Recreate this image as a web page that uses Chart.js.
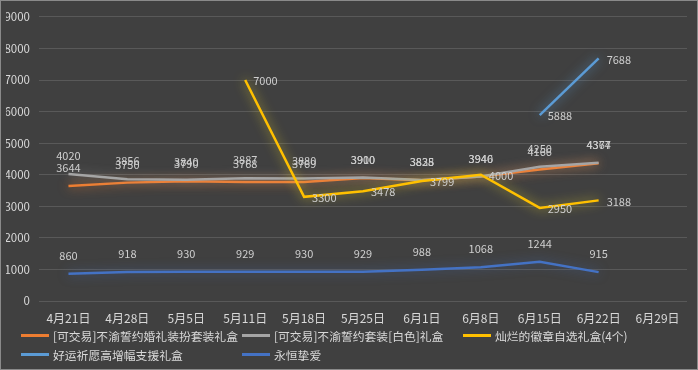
<!DOCTYPE html>
<html>
<head>
<meta charset="utf-8">
<script src="https://cdn.jsdelivr.net/npm/chart.js@4.4.1/dist/chart.umd.min.js"></script>
<style>
    body { margin: 0; background: #404040; }
    #wrap { position: relative; width: 698px; height: 370px; background: #404040; box-sizing: border-box; border: 1px solid #8a8a8a; }
    canvas { position: absolute; left: 0; top: 0; }
    #legend { position: absolute; left: 20px; top: 325px; width: 670px; display: grid; grid-template-columns: 221px 221px 221px; row-gap: 1px;
        font-family: "Noto Sans CJK SC", sans-serif; font-size: 11.8px; color: #D9D9D9; }
    .item { display: flex; align-items: center; height: 18px; white-space: nowrap; }
    .swatch { width: 28px; height: 3px; margin-right: 4px; }
</style>
</head>
<body>
<div id="wrap">
    <canvas id="chart" width="698" height="370"></canvas>
    <div id="legend"></div>
</div>
<script>
const labels = ['4月21日', '4月28日', '5月5日', '5月11日', '5月18日', '5月25日', '6月1日', '6月8日', '6月15日', '6月22日', '6月29日'];
const seriesNames = ['[可交易]不渝誓约婚礼装扮套装礼盒', '[可交易]不渝誓约套装[白色]礼盒', '灿烂的徽章自选礼盒(4个)', '好运祈愿高增幅支援礼盒', '永恒挚爱'];
const weddingBox = [3644, 3750, 3790, 3768, 3769, 3900, 3828, 3940, 4166, 4364, null];
const whiteBox = [4020, 3856, 3840, 3887, 3880, 3910, 3835, 3946, 4250, 4377, null];
const badgeBox = [null, null, null, 7000, 3300, 3478, 3799, 4000, 2950, 3188, null];
const luckBox = [null, null, null, null, null, null, null, null, 5888, 7688, null];
const eternalLove = [860, 918, 930, 929, 930, 929, 988, 1068, 1244, 915, null];
const yTicks = [0, 1000, 2000, 3000, 4000, 5000, 6000, 7000, 8000, 9000];

const colors = ['#ED7D31', '#A5A5A5', '#FFC000', '#5B9BD5', '#4472C4'];
const glows = ['rgba(237,125,49,0.85)', 'rgba(200,200,200,0.4)', 'rgba(235,215,40,0.75)', 'rgba(91,155,213,0.8)', 'rgba(68,114,196,0.6)'];
const labelSide = ['top', 'top', 'right', 'right', 'top'];
const allValues = [weddingBox, whiteBox, badgeBox, luckBox, eternalLove];

const textColor = '#D9D9D9';
const fontFamily = '"Noto Sans CJK SC", "Noto Sans", sans-serif';

// soft glow behind each line
const glowPlugin = {
    id: 'glow',
    beforeDatasetDraw(chart, args) {
        const ctx = chart.ctx;
        ctx.save();
        ctx.shadowColor = glows[args.index];
        ctx.shadowBlur = 11;
    },
    afterDatasetDraw(chart) {
        chart.ctx.restore();
    }
};

// value labels like the spreadsheet data labels
const valueLabels = {
    id: 'valueLabels',
    afterDatasetsDraw(chart) {
        const ctx = chart.ctx;
        ctx.save();
        ctx.font = '11px ' + fontFamily;
        ctx.fillStyle = '#CFCFCF';
        chart.data.datasets.forEach((ds, i) => {
            const meta = chart.getDatasetMeta(i);
            meta.data.forEach((pt, j) => {
                const v = ds.data[j];
                if (v === null) return;
                if (labelSide[i] === 'top') {
                    ctx.textAlign = 'center';
                    ctx.textBaseline = 'middle';
                    ctx.fillText(v, pt.x, pt.y - 18);
                } else {
                    ctx.textAlign = 'left';
                    ctx.textBaseline = 'middle';
                    ctx.fillText(v, pt.x + 8, pt.y + 1);
                }
            });
        });
        ctx.restore();
    }
};

const datasets = seriesNames.map((name, i) => ({
    label: name,
    data: allValues[i],
    borderColor: colors[i],
    backgroundColor: colors[i],
    borderWidth: 2.5,
    pointRadius: 0,
    tension: 0,
    spanGaps: false,
    order: 5 - i
}));

const chart = new Chart(document.getElementById('chart'), {
    type: 'line',
    data: { labels: labels, datasets: datasets },
    options: {
        responsive: false,
        animation: false,
        devicePixelRatio: 1,
        layout: { padding: { left: 5, right: 12, top: 14, bottom: 40 } },
        plugins: { legend: { display: false }, tooltip: { enabled: false } },
        scales: {
            x: {
                offset: true,
                grid: { display: false, drawTicks: false },
                border: { display: false },
                ticks: { color: textColor, font: { family: fontFamily, size: 12 }, padding: 10, maxRotation: 0, autoSkip: false },
                afterFit(scale) { scale.height = 30; }
            },
            y: {
                min: 0,
                max: 9000,
                afterBuildTicks(scale) { scale.ticks = yTicks.map(v => ({ value: v })); },
                grid: { color: '#595959', lineWidth: 1, drawTicks: false },
                border: { display: false },
                ticks: { color: textColor, font: { family: fontFamily, size: 11.5 }, padding: 9, callback: v => String(v) },
                afterFit(scale) { scale.width = 33; }
            }
        }
    },
    plugins: [glowPlugin, valueLabels]
});

const legend = document.getElementById('legend');
seriesNames.forEach((name, i) => {
    const div = document.createElement('div');
    div.className = 'item';
    div.innerHTML = `<span class="swatch" style="background:${colors[i]}"></span><span>${name}</span>`;
    legend.appendChild(div);
});
</script>
</body>
</html>
